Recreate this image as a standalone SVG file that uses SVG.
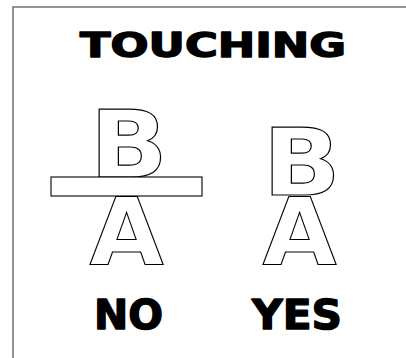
<svg xmlns="http://www.w3.org/2000/svg" width="406" height="358" viewBox="0 0 406 358">
<style>
.title{font-family:"DejaVu Sans","Liberation Sans",sans-serif;font-weight:bold;fill:#000;stroke:#000;stroke-width:1.4;stroke-linejoin:round}
.glyph{font-family:"DejaVu Sans","Liberation Sans",sans-serif;font-weight:bold;font-size:93px;fill:#fff;stroke:#000;stroke-width:1.1;stroke-linejoin:miter}
.bar{fill:#fff;stroke:#000;stroke-width:1.1}
.frame{fill:none;stroke:#7a7a7a;stroke-width:1.6}
</style>
<rect x="0" y="0" width="406" height="358" fill="#fff"/>
<rect class="frame" x="13" y="7" width="420" height="380"/>
<g id="title"><text class="title" x="80" y="57" font-size="33" textLength="266" lengthAdjust="spacingAndGlyphs">TOUCHING</text></g>
<g id="no-case">
<g id="no-b"><text class="glyph" transform="translate(89.8,177) scale(1.1,1)">B</text></g>
<g id="no-bar"><rect class="bar" x="51" y="177" width="151" height="19"/></g>
<g id="no-a"><text class="glyph" transform="translate(89.6,264) scale(1.03,1)">A</text></g>
</g>
<g id="yes-case">
<g id="yes-b"><text class="glyph" transform="translate(262.8,195) scale(1.1,1)">B</text></g>
<g id="yes-a"><text class="glyph" transform="translate(262.6,264) scale(1.03,1)">A</text></g>
</g>
<g id="label-no"><text class="title" x="94" y="329" font-size="40" textLength="69" lengthAdjust="spacingAndGlyphs">NO</text></g>
<g id="label-yes"><text class="title" x="252" y="329" font-size="40" textLength="90" lengthAdjust="spacingAndGlyphs">YES</text></g>
</svg>
